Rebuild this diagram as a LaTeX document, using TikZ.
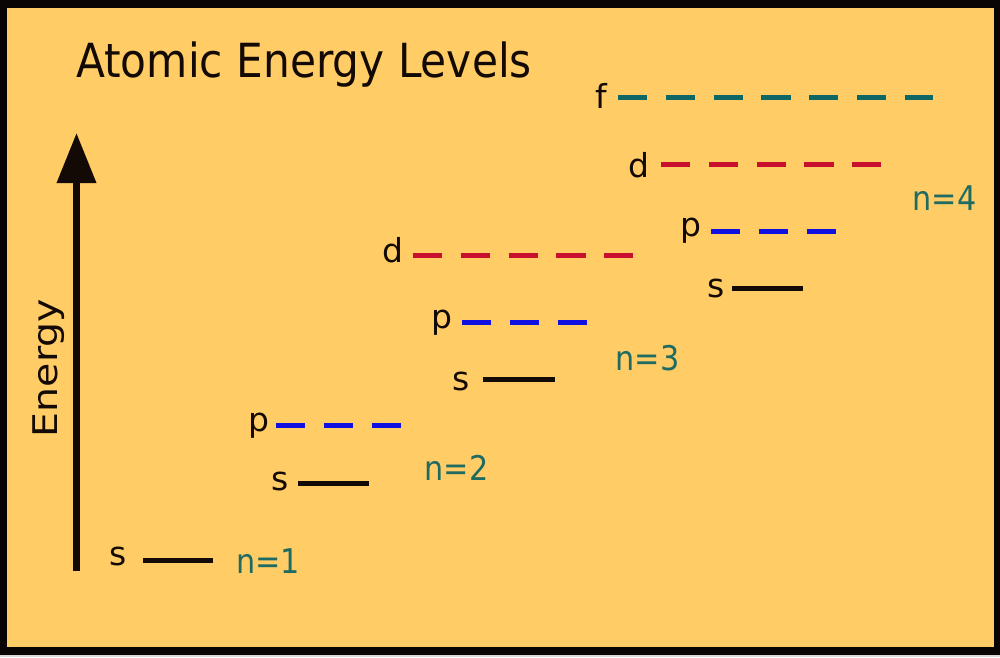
\documentclass[tikz,border=0pt]{standalone}
\usepackage{fontspec}
\setmainfont{DejaVu Sans}
\usetikzlibrary{arrows.meta}
\definecolor{bgyellow}{HTML}{FFCC66}
\definecolor{frame}{HTML}{0A0505}
\definecolor{tealdash}{HTML}{0F6666}
\definecolor{reddash}{HTML}{C8102E}
\definecolor{bluedash}{HTML}{1010E0}
\definecolor{nteal}{HTML}{1F6B62}
\definecolor{ink}{HTML}{140A05}
\newcommand{\nsq}[1]{\scalebox{0.89}[1]{#1}}
\tikzset{
  orb/.style={anchor=base, inner sep=0pt, text=ink, font=\fontsize{33}{40}\selectfont},
  nlab/.style={anchor=base, inner sep=0pt, text=nteal, font=\fontsize{34}{40}\selectfont},
  lvl/.style={line width=5pt, draw=ink},
  dlvl/.style={line width=5pt, dash pattern=on 29.2pt off 18.6pt},
}
\begin{document}
\begin{tikzpicture}[x=1pt, y=-1pt]
\useasboundingbox (0,0) rectangle (1000,657);
\fill[frame] (0,0) rectangle (1000,657);
\fill[bgyellow] (7,8) rectangle (994,647);
\fill[black!15] (0,655) rectangle (1000,657);

% title
\node[anchor=base west, inner sep=0pt, text=ink, font=\fontsize{47}{56}\selectfont] (title) at (76,77) {\scalebox{0.9}[1]{Atomic Energy Levels}};

% energy axis
\coordinate (axbot) at (76.5,571);
\coordinate (axtop) at (76.5,133);
\draw[line width=7pt, draw=ink, -{Triangle[width=38pt,length=50pt]}] (axbot) -- (axtop);
\node[rotate=90, anchor=base, inner sep=0pt, text=ink, font=\fontsize{34}{40}\selectfont] (energy) at (57,368) {\scalebox{1.16}[1]{Energy}};

% n = 1
\node[orb] (s1) at (118,565) {s};
\coordinate (s1a) at (143,560); \coordinate (s1b) at (213,560);
\draw[lvl] (s1a) -- (s1b);
\node[nlab] (n1) at (268,573) {\nsq{n=1}};

% n = 2
\node[orb] (s2) at (280,490) {s};
\coordinate (s2a) at (298,483); \coordinate (s2b) at (369,483);
\draw[lvl] (s2a) -- (s2b);
\node[orb] (p2) at (259,431) {p};
\coordinate (p2a) at (276,425); \coordinate (p2b) at (404,425);
\draw[dlvl, draw=bluedash] (p2a) -- (p2b);
\node[nlab] (n2) at (456.5,480) {\nsq{n=2}};

% n = 3
\node[orb] (s3) at (461.5,390) {s};
\coordinate (s3a) at (483,379); \coordinate (s3b) at (555,379);
\draw[lvl] (s3a) -- (s3b);
\node[orb] (p3) at (442,328) {p};
\coordinate (p3a) at (462,322); \coordinate (p3b) at (589,322);
\draw[dlvl, draw=bluedash] (p3a) -- (p3b);
\node[orb] (d3) at (393,262) {d};
\coordinate (d3a) at (413,255); \coordinate (d3b) at (633,255);
\draw[dlvl, draw=reddash] (d3a) -- (d3b);
\node[nlab] (n3) at (647.5,370) {\nsq{n=3}};

% n = 4
\node[orb] (s4) at (716.5,297) {s};
\coordinate (s4a) at (732,288); \coordinate (s4b) at (803,288);
\draw[lvl] (s4a) -- (s4b);
\node[orb] (p4) at (691,236) {p};
\coordinate (p4a) at (711,231); \coordinate (p4b) at (838,231);
\draw[dlvl, draw=bluedash] (p4a) -- (p4b);
\node[orb] (d4) at (639,177) {d};
\coordinate (d4a) at (661,164); \coordinate (d4b) at (882,164);
\draw[dlvl, draw=reddash] (d4a) -- (d4b);
\node[orb] (f4) at (601,108) {f};
\coordinate (f4a) at (618,97); \coordinate (f4b) at (933,97);
\draw[dlvl, draw=tealdash] (f4a) -- (f4b);
\node[nlab] (n4) at (944.5,210) {\nsq{n=4}};
\end{tikzpicture}
\end{document}
